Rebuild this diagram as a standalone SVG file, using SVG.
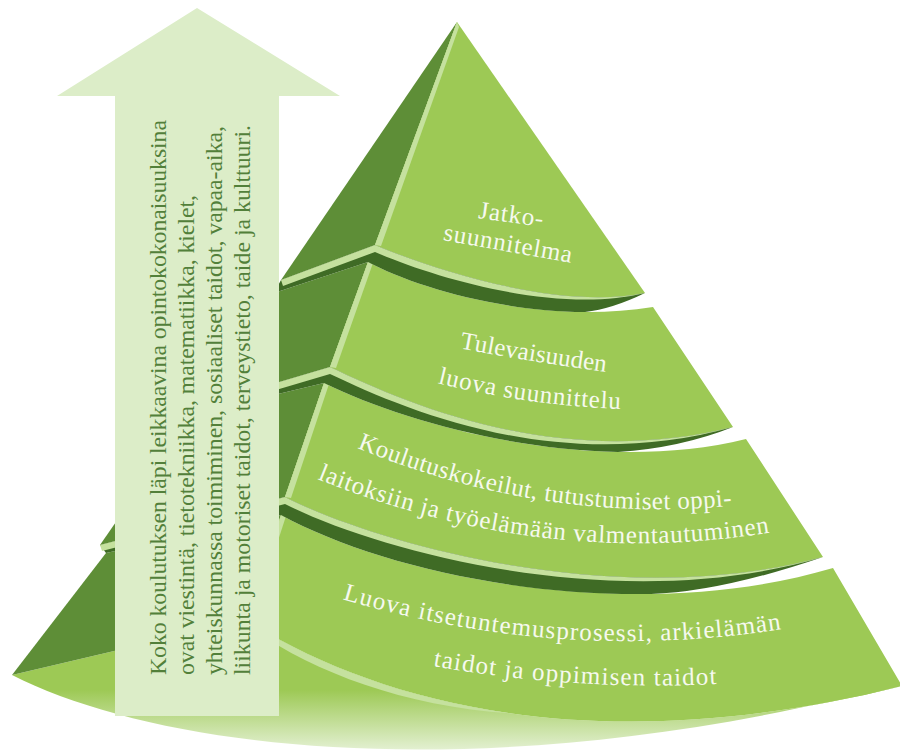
<svg xmlns="http://www.w3.org/2000/svg" width="900" height="755" viewBox="0 0 900 755">
  <defs>
    <linearGradient id="floorFade" gradientUnits="userSpaceOnUse" x1="0" y1="690" x2="0" y2="756">
      <stop offset="0" stop-color="#9dc955"/>
      <stop offset="1" stop-color="#eaf4de"/>
    </linearGradient>
    <style>
      .front { fill: #9dc955; }
      .side  { fill: #5e8e37; }
      .band  { fill: #3f6b25; }
      .hl    { fill: #c5e19e; }
      .label { font-family: "Liberation Serif", "Times New Roman", serif; font-size: 25px; fill: #f6f9ef; text-anchor: middle; }
      .note  { font-family: "Liberation Serif", "Times New Roman", serif; font-size: 23.8px; fill: #52803a; }
    </style>
    <!-- baselines for the tier labels -->
    <path id="p1" d="M440.3,212.8 L580.7,232.2"/>
    <path id="p2" d="M402.6,233 L611.4,270"/>
    <path id="p3" d="M428.7,342.2 Q531,363 637.3,375.8"/>
    <path id="p4" d="M399.8,373 Q530,410.8 660.2,409.4"/>
    <path id="p5" d="M281.3,413.1 Q546,549 814.7,492.9"/>
    <path id="p6" d="M229.9,438.9 Q545,600.7 864.1,511.7"/>
    <path id="p7" d="M258.1,570.7 Q562,687 869.9,611.3"/>
    <path id="p8" d="M376.4,654.7 Q574.1,698.7 775.4,679.9"/>
  </defs>

  <rect width="900" height="755" fill="#ffffff"/>

  <!-- base: underside fading out -->
  <g id="base">
    <path fill="url(#floorFade)" d="M12,675 L246,620 C380,705 600,762 902,686 L780,712 C430,782 150,745 12,675 Z"/>
  </g>

  <!-- tier 4 (bottom) -->
  <g id="tier-4">
    <path class="side" d="M281,515 L106,553 L12,675 L246,620 Z"/>
    <path class="front" d="M281,515 C400,580 640,625 833,568 L902,686 C600,762 380,705 246,620 Z"/>
    <path class="hl" d="M281,515 L246,620 L252,621 L286,516 Z"/>
    <path class="hl" d="M246,620 C313,662.5 401.5,698 511,713.4 C400,706 310,670 248,626 Z"/>
    <text class="label" letter-spacing="1.15"><textPath href="#p7" startOffset="50%">Luova itsetuntemusprosessi, arkielämän</textPath></text>
    <text class="label" letter-spacing="1.2"><textPath href="#p8" startOffset="50%">taidot ja oppimisen taidot</textPath></text>
  </g>

  <!-- tier 3 -->
  <g id="tier-3">
    <path class="side" d="M324,383 L190,415 L100,545 L285,497 Z"/>
    <path class="front" d="M324,383 C420,430 600,475 746,439 L823,557 C620,612 380,545 285,497 Z"/>
    <path class="band" d="M100,545 L285,497 C380,545 620,612 823,557 Q720,592 651,594 C506.9,596.2 364.3,560.5 281,515 L106,553 Z"/>
    <path class="hl" d="M100,545 L285,497 C380,545 620,612 823,557 C620,617 380,552 285,504 L102,551 Z"/>
    <path class="hl" d="M324,383 L285,497 L291,498 L329,384 Z"/>
    <text class="label" letter-spacing="0.45"><textPath href="#p5" startOffset="50%">Koulutuskokeilut, tutustumiset oppi-</textPath></text>
    <text class="label" letter-spacing="0.75"><textPath href="#p6" startOffset="50%">laitoksiin ja työelämään valmentautuminen</textPath></text>
  </g>

  <!-- tier 2 -->
  <g id="tier-2">
    <path class="side" d="M368,262 L274,293 L192,408 L330,367 Z"/>
    <path class="front" d="M368,262 C420,290 540,325 653,307 L733,427 C560,470 410,405 330,367 Z"/>
    <path class="band" d="M192,408 L330,367 C410,405 560,470 733,427 Q680,448 618,452 C505.8,449.6 393.1,416.8 324,383 L190,415 Z"/>
    <path class="hl" d="M192,408 L330,367 C410,405 560,470 733,427 C560,475 410,412 330,374 L195,414 Z"/>
    <path class="hl" d="M368,262 L330,367 L336,368 L373,263 Z"/>
    <text class="label" letter-spacing="0.15"><textPath href="#p3" startOffset="50%">Tulevaisuuden</textPath></text>
    <text class="label" letter-spacing="0.75"><textPath href="#p4" startOffset="50%">luova suunnittelu</textPath></text>
  </g>

  <!-- tier 1 (top) -->
  <g id="tier-1">
    <path class="side" d="M457,22 L281,280 L375,245 Z"/>
    <path class="front" d="M457,22 L645,293 C560,310 440,272 375,245 Z"/>
    <path class="band" d="M281,280 L375,245 C440,272 560,310 645,293 Q612,309 585,312 C494.7,311.3 409.6,284.4 368,262 L274,293 Z"/>
    <path class="hl" d="M281,280 L375,245 C440,272 560,310 645,293 C560,314 440,280 375,252 L283,286 Z"/>
    <path class="hl" d="M457,22 L375,245 L381,246 L459,27 Z"/>
    <text class="label" letter-spacing="0.8"><textPath href="#p1" startOffset="50%">Jatko-</textPath></text>
    <text class="label" letter-spacing="0.8"><textPath href="#p2" startOffset="50%">suunnitelma</textPath></text>
  </g>

  <!-- upward arrow with the cross-curricular themes -->
  <g id="arrow">
    <path fill="#dcedc8" d="M197,8 L340,96 L279,96 L279,716 L115,716 L115,96 L57,96 Z"/>
    <text class="note" transform="translate(166,675) rotate(-90)" textLength="555">Koko koulutuksen läpi leikkaavina opintokokonaisuuksina</text>
    <text class="note" transform="translate(194,675) rotate(-90)" textLength="480">ovat viestintä, tietotekniikka, matematiikka, kielet,</text>
    <text class="note" transform="translate(222,675) rotate(-90)" textLength="549">yhteiskunnassa toimiminen, sosiaaliset taidot, vapaa-aika,</text>
    <text class="note" transform="translate(250,675) rotate(-90)" textLength="550">liikunta ja motoriset taidot, terveystieto, taide ja kulttuuri.</text>
  </g>
</svg>
